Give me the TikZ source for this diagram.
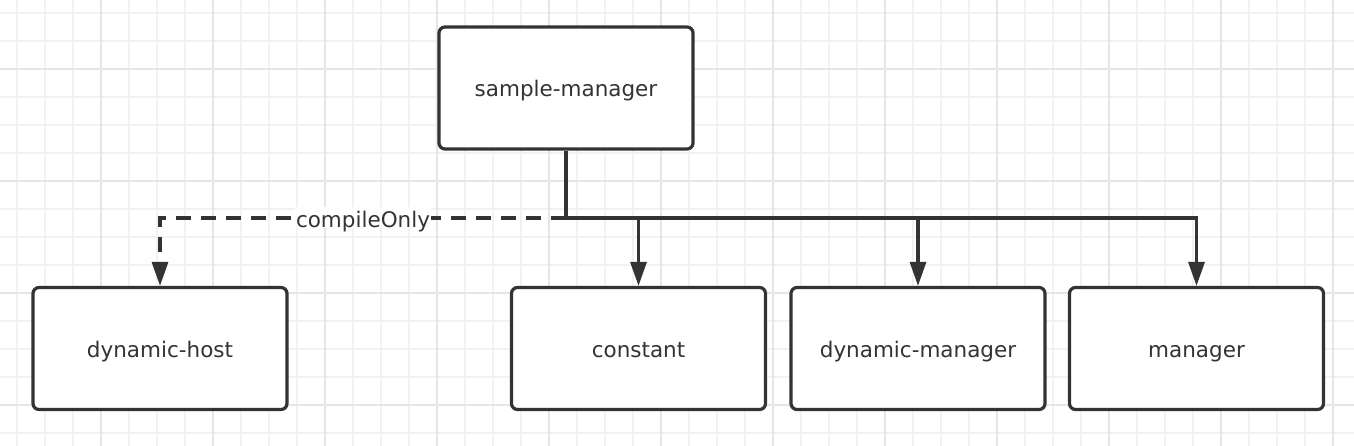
\documentclass[tikz,border=0pt]{standalone}
\usepackage{fontspec}
\setmainfont{DejaVu Sans}
\usetikzlibrary{arrows.meta}
\definecolor{ink}{HTML}{333333}
\definecolor{gridminor}{HTML}{F2F2F2}
\definecolor{gridmajor}{HTML}{E6E6E6}
\tikzset{
  box/.style={draw=ink, line width=3.2pt, rounded corners=6pt, fill=white,
    minimum width=254pt, minimum height=122pt, inner sep=0pt, text=ink,
    text height=17.5pt, text depth=0pt,
    font=\fontsize{21.5}{24}\selectfont},
  link/.style={draw=ink, line width=3.2pt},
  arrowlink/.style={link, -{Triangle[length=24pt,width=16pt]}},
  dashlink/.style={link, dash pattern=on 15pt off 10pt, -{Triangle[length=24pt,width=16pt]}},
  lbl/.style={fill=white, text=ink, inner sep=1pt, text height=19pt, text depth=0pt,
    font=\fontsize{21.5}{24}\selectfont}
}
\begin{document}
\begin{tikzpicture}[x=1pt,y=-1pt]
\useasboundingbox (0,0) rectangle (1354,446);
\fill[white] (0,0) rectangle (1354,446);
% grid
\foreach \i in {0,...,48} { \draw[gridminor, line width=1.6pt] ({16.7+28*\i},0) -- ({16.7+28*\i},446); }
\foreach \i in {0,...,15} { \draw[gridminor, line width=1.6pt] (0,{13+28*\i}) -- (1354,{13+28*\i}); }
\foreach \i in {0,...,11} { \draw[gridmajor, line width=1.6pt] ({100.7+112*\i},0) -- ({100.7+112*\i},446); }
\foreach \i in {0,...,3} { \draw[gridmajor, line width=1.6pt] (0,{69+112*\i}) -- (1354,{69+112*\i}); }
% nodes
\node[box] (sm) at (566,88) {sample-manager};
\node[box] (dh) at (160,348.5) {dynamic-host};
\node[box] (con) at (638.5,348.5) {constant};
\node[box] (dm) at (918,348.5) {dynamic-manager};
\node[box] (man) at (1196.5,348.5) {manager};
\coordinate (j) at (566,218);
% connectors
\draw[dashlink] (j) -| node[lbl, pos=0.25] {compileOnly} (dh.north);
\draw[link] (sm.south) -- (j);
\draw[arrowlink] (j) -| (con.north);
\draw[arrowlink] (j) -| (dm.north);
\draw[arrowlink] (j) -| (man.north);
\end{tikzpicture}
\end{document}
